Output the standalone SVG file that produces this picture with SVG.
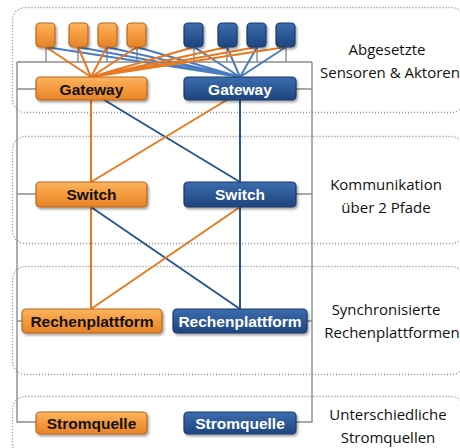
<svg xmlns="http://www.w3.org/2000/svg" width="460" height="448" viewBox="0 0 460 448">
<defs>
<linearGradient id="gO" x1="0" y1="0" x2="0" y2="1">
<stop offset="0" stop-color="#FBB560"/><stop offset="0.5" stop-color="#F59A3C"/><stop offset="1" stop-color="#E5832A"/>
</linearGradient>
<linearGradient id="gB" x1="0" y1="0" x2="0" y2="1">
<stop offset="0" stop-color="#3D6DAD"/><stop offset="0.5" stop-color="#2C5896"/><stop offset="1" stop-color="#1F467E"/>
</linearGradient>
<filter id="sh" x="-10%" y="-20%" width="130%" height="160%">
<feDropShadow dx="1.5" dy="2" stdDeviation="1.2" flood-color="#000" flood-opacity="0.35"/>
</filter>
</defs>
<style>
.frame{fill:none;stroke:#8a8a8a;stroke-width:1.3;stroke-dasharray:1 2}
.bus{fill:none;stroke:#8c8c8c;stroke-width:1.4}
.lo{stroke:#E8791F;stroke-width:2;fill:none}
.lb{stroke:#4A7CC0;stroke-width:2;fill:none}
.lbd{stroke:#2A5590;stroke-width:2;fill:none}
.bo{fill:url(#gO);stroke:#B8651C;stroke-width:1.2;filter:url(#sh)}
.bb{fill:url(#gB);stroke:#173A6A;stroke-width:1.2;filter:url(#sh)}
.to{font-family:"Liberation Sans",Arial,sans-serif;font-weight:bold;font-size:15.5px;fill:#111;text-anchor:middle}
.tb{font-family:"Liberation Sans",Arial,sans-serif;font-weight:bold;font-size:15.5px;fill:#fff;text-anchor:middle}
.lab{font-family:"Open Sans","Liberation Sans",sans-serif;font-size:15px;fill:#111;text-anchor:middle}
</style>

<g id="frames">
<rect class="frame" x="12.5" y="7.5" width="452" height="105" rx="13"/>
<rect class="frame" x="12.5" y="136.5" width="452" height="107" rx="13"/>
<rect class="frame" x="12.5" y="266.5" width="452" height="108" rx="13"/>
<rect class="frame" x="12.5" y="396.5" width="452" height="60" rx="13"/>
</g>

<g id="power">
<path class="bus" d="M17 62 V422 H36 M17 89 H36 M17 194 H36 M17 321 H22"/>
<path class="bus" d="M312 62 V422 H296 M312 89 H296 M312 194 H296 M312 321 H307"/>
<path class="bus" d="M17 62 H312 M46 47 V62 M78 47 V62 M107 47 V62 M137 47 V62 M194 47 V62 M227 47 V62 M257 47 V62 M286 47 V62"/>
</g>

<g id="connectors">
<path class="lb" d="M46 47 L240 77 M78 47 L240 77 M107 47 L240 77 M137 47 L240 77 M194 47 L240 77 M227 47 L240 77 M257 47 L240 77 M286 47 L240 77"/>
<path class="lo" d="M46 47 L91 77 M78 47 L91 77 M107 47 L91 77 M137 47 L91 77 M194 47 L91 77 M227 47 L91 77 M257 47 L91 77 M286 47 L91 77"/>
<path class="lbd" d="M91 92 L240 182 M240 100 V182 M91 207 L240 309 M240 207 V309"/>
<path class="lo" d="M240 92 L91 182 M91 100 V182 M240 207 L91 309 M91 207 V309"/>
</g>

<g id="sensor-o1"><rect class="bo" x="36" y="23" width="19" height="24" rx="4"/></g>
<g id="sensor-o2"><rect class="bo" x="69" y="23" width="19" height="24" rx="4"/></g>
<g id="sensor-o3"><rect class="bo" x="98" y="23" width="19" height="24" rx="4"/></g>
<g id="sensor-o4"><rect class="bo" x="127" y="23" width="19" height="24" rx="4"/></g>
<g id="sensor-b1"><rect class="bb" x="184" y="23" width="19" height="24" rx="4"/></g>
<g id="sensor-b2"><rect class="bb" x="218" y="23" width="19" height="24" rx="4"/></g>
<g id="sensor-b3"><rect class="bb" x="247" y="23" width="19" height="24" rx="4"/></g>
<g id="sensor-b4"><rect class="bb" x="276" y="23" width="19" height="24" rx="4"/></g>

<g id="gateway-o"><rect class="bo" x="36" y="77" width="111" height="23" rx="4"/><text class="to" x="91.5" y="94.5">Gateway</text></g>
<g id="gateway-b"><rect class="bb" x="184" y="77" width="112" height="23" rx="4"/><text class="tb" x="240" y="94.5">Gateway</text></g>
<g id="switch-o"><rect class="bo" x="36" y="182" width="111" height="25" rx="4"/><text class="to" x="91.5" y="200">Switch</text></g>
<g id="switch-b"><rect class="bb" x="184" y="182" width="112" height="25" rx="4"/><text class="tb" x="240" y="200">Switch</text></g>
<g id="rechen-o"><rect class="bo" x="22" y="309" width="140" height="24" rx="4"/><text class="to" x="92" y="326.5">Rechenplattform</text></g>
<g id="rechen-b"><rect class="bb" x="173" y="309" width="134" height="24" rx="4"/><text class="tb" x="240" y="326.5">Rechenplattform</text></g>
<g id="strom-o"><rect class="bo" x="36" y="412" width="111" height="22" rx="4"/><text class="to" x="91.5" y="428.5">Stromquelle</text></g>
<g id="strom-b"><rect class="bb" x="184" y="412" width="112" height="22" rx="4"/><text class="tb" x="240" y="428.5">Stromquelle</text></g>

<g id="labels">
<text class="lab" x="387" y="55">Abgesetzte</text>
<text class="lab" x="390" y="78">Sensoren &amp; Aktoren</text>
<text class="lab" x="386" y="190">Kommunikation</text>
<text class="lab" x="386" y="213">über 2 Pfade</text>
<text class="lab" x="386" y="315">Synchronisierte</text>
<text class="lab" x="392" y="338">Rechenplattformen</text>
<text class="lab" x="388" y="420">Unterschiedliche</text>
<text class="lab" x="388" y="443">Stromquellen</text>
</g>
</svg>
